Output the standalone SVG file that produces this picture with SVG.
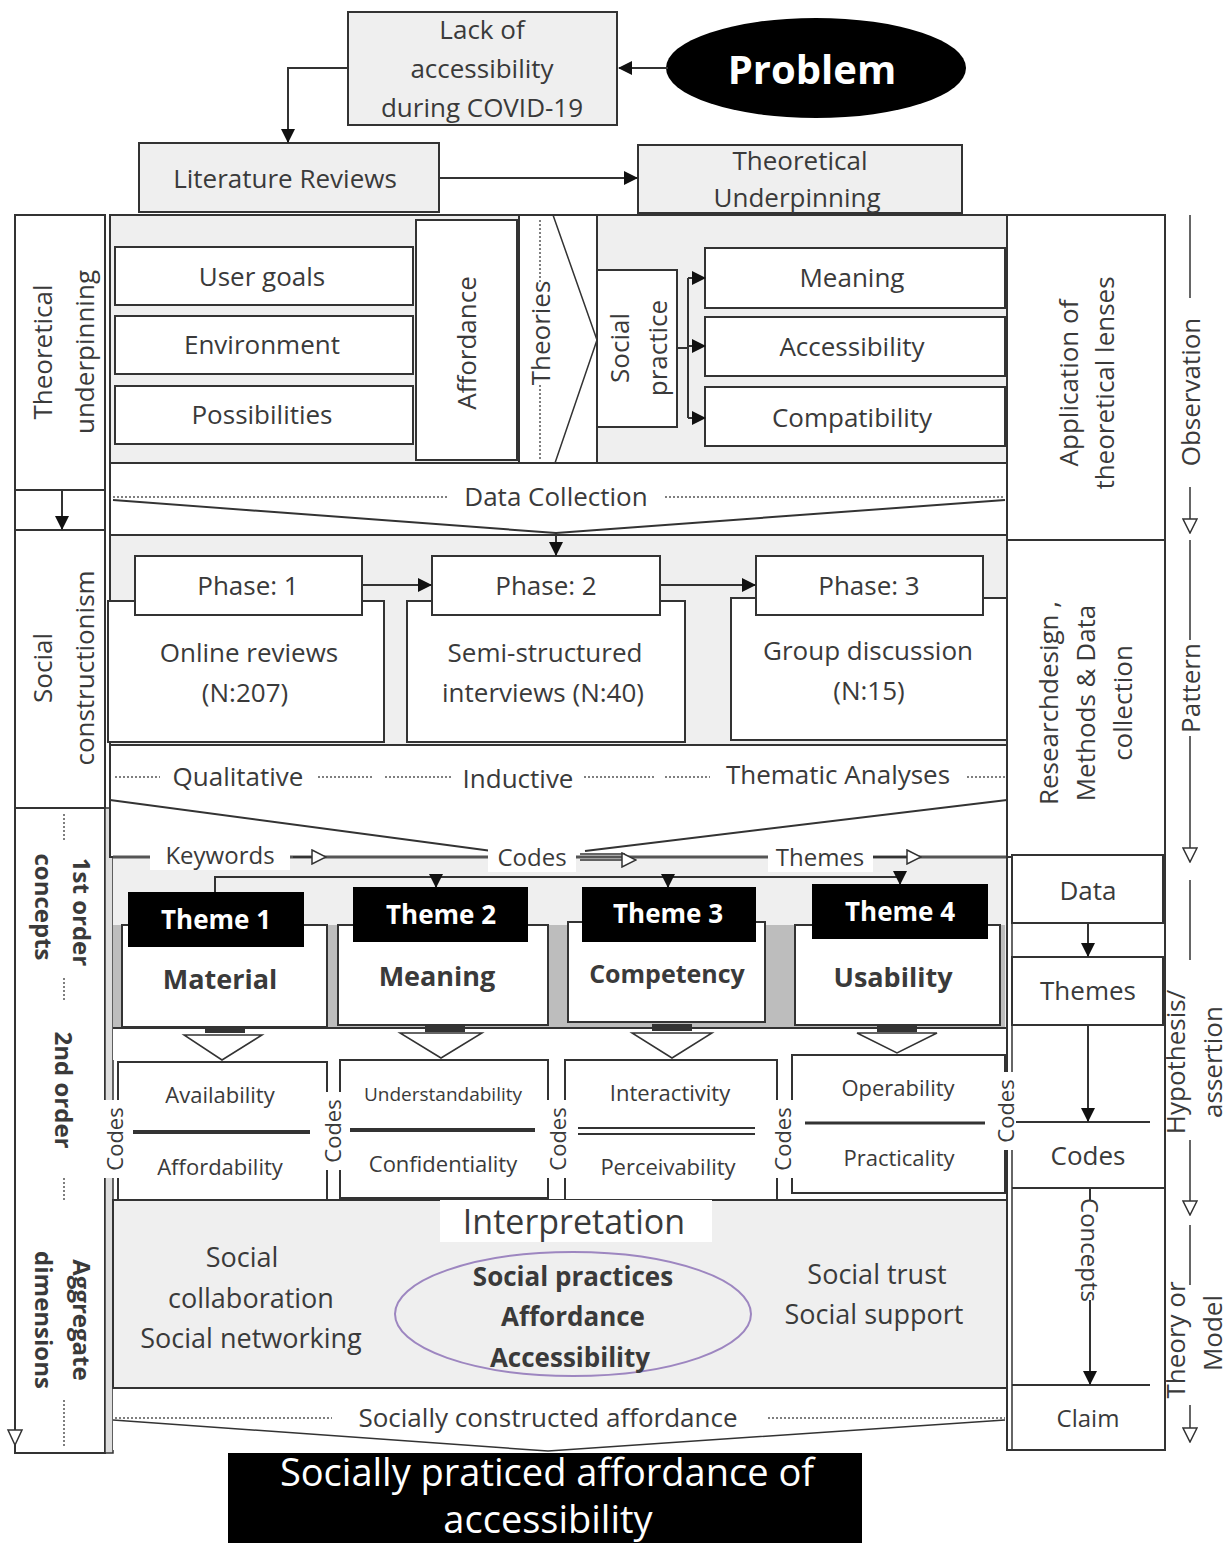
<svg xmlns="http://www.w3.org/2000/svg" width="1229" height="1543" viewBox="0 0 1229 1543">
<defs>
<style>
.box{fill:#fff;stroke:#333;stroke-width:2}
.gbox{fill:#efefef;stroke:#333;stroke-width:2}
.t{font-family:"Open Sans","Liberation Sans",sans-serif;fill:#3a3a3a;text-anchor:middle;dominant-baseline:central;font-size:26px}
.b{font-weight:bold}
.w{fill:#fff}
.ln{stroke:#333;stroke-width:2;fill:none}
.dot{stroke:#555;stroke-width:1.5;stroke-dasharray:2 2;fill:none}
.blk{fill:#000}
</style>
<marker id="arr" markerWidth="14" markerHeight="14" refX="13" refY="7" orient="auto" markerUnits="userSpaceOnUse"><path d="M0,0 L14,7 L0,14 z" fill="#111"/></marker>
<marker id="oarr" markerWidth="16" markerHeight="16" refX="15" refY="8" orient="auto" markerUnits="userSpaceOnUse"><path d="M1,1 L15,8 L1,15 z" fill="#fff" stroke="#333" stroke-width="1.5"/></marker>
</defs>
<rect width="1229" height="1543" fill="#fff"/>

<!-- top -->
<g id="lack"><rect x="348" y="12" width="269" height="113" class="gbox"/>
<text class="t" x="482" y="29">Lack of</text><text class="t" x="482" y="68">accessibility</text><text class="t" x="482" y="107">during COVID-19</text></g>
<g id="problem"><ellipse cx="816" cy="68" rx="150" ry="50" class="blk"/><text class="t b w" x="812" y="68" style="font-size:40px">Problem</text></g>
<g id="lit"><rect x="139" y="143" width="300" height="69" class="gbox"/><text class="t" x="285" y="178">Literature Reviews</text></g>
<g id="theo"><rect x="638" y="145" width="324" height="68" class="gbox"/><text class="t" x="800" y="160">Theoretical</text><text class="t" x="797" y="197">Underpinning</text></g>

<!-- left column -->
<g id="leftcol">
<rect x="15" y="215" width="90" height="1238" class="box"/>
<line x1="15" y1="490" x2="105" y2="490" class="ln"/>
<line x1="15" y1="530" x2="105" y2="530" class="ln"/>
<line x1="15" y1="808" x2="105" y2="808" class="ln"/>
<rect x="105" y="808" width="8" height="645" fill="#ddd" stroke="#333" stroke-width="1.5"/>
<text class="t" transform="rotate(-90 42 352)" x="42" y="352">Theoretical</text>
<text class="t" transform="rotate(-90 84 352)" x="84" y="352">underpinning</text>
<text class="t" transform="rotate(-90 42 668)" x="42" y="668">Social</text>
<text class="t" transform="rotate(-90 84 668)" x="84" y="668">constructionism</text>
<text class="t b" transform="rotate(90 82 912)" x="82" y="912" style="font-size:24px">1st order</text>
<text class="t b" transform="rotate(90 44 907)" x="44" y="907" style="font-size:24px">concepts</text>
<text class="t b" transform="rotate(90 64 1090)" x="64" y="1090" style="font-size:24px">2nd order</text>
<text class="t b" transform="rotate(90 82 1320)" x="82" y="1320" style="font-size:24px">Aggregate</text>
<text class="t b" transform="rotate(90 44 1320)" x="44" y="1320" style="font-size:24px">dimensions</text>
<line x1="64" y1="814" x2="64" y2="842" class="dot"/>
<line x1="64" y1="978" x2="64" y2="1002" class="dot"/>
<line x1="64" y1="1178" x2="64" y2="1202" class="dot"/>
<line x1="64" y1="1400" x2="64" y2="1448" class="dot"/>
<path d="M8,1430 L22,1430 L15,1445 z" fill="#fff" stroke="#333" stroke-width="1.5"/>
</g>

<!-- top panel -->
<g id="toppanel">
<rect x="110" y="215" width="897" height="248" class="gbox"/>
<rect x="519" y="216" width="78" height="246" fill="#fff"/>
<line x1="519" y1="215" x2="519" y2="463" class="ln"/>
<polyline points="553,215 597,340 555,463" class="ln" style="stroke-width:1.5"/>
<line x1="597" y1="215" x2="597" y2="463" class="ln"/>
<line x1="540" y1="220" x2="540" y2="282" class="dot"/>
<line x1="540" y1="385" x2="540" y2="460" class="dot"/>
<text class="t" transform="rotate(-90 540 333)" x="540" y="333">Theories</text>
</g>
<g id="usergoals"><rect x="115" y="247" width="298" height="58" class="box"/><text class="t" x="262" y="276">User goals</text></g>
<g id="environment"><rect x="115" y="316" width="298" height="58" class="box"/><text class="t" x="262" y="344">Environment</text></g>
<g id="possibilities"><rect x="115" y="386" width="298" height="58" class="box"/><text class="t" x="262" y="414">Possibilities</text></g>
<g id="affordance"><rect x="416" y="220" width="101" height="240" class="box"/><text class="t" transform="rotate(-90 466 343)" x="466" y="343">Affordance</text></g>
<g id="socialpractice"><rect x="597" y="270" width="80" height="157" class="box"/>
<text class="t" transform="rotate(-90 619 348)" x="619" y="348">Social</text>
<text class="t" transform="rotate(-90 657 348)" x="657" y="348">practice</text></g>
<g id="meaning"><rect x="705" y="248" width="300" height="60" class="box"/><text class="t" x="852" y="277">Meaning</text></g>
<g id="accessibility"><rect x="705" y="317" width="300" height="59" class="box"/><text class="t" x="852" y="346">Accessibility</text></g>
<g id="compatibility"><rect x="705" y="387" width="300" height="59" class="box"/><text class="t" x="852" y="417">Compatibility</text></g>

<!-- data collection -->
<g id="datacollection">
<rect x="110" y="463" width="897" height="72" class="box"/>
<line x1="113" y1="497" x2="448" y2="497" class="dot"/>
<line x1="665" y1="497" x2="1005" y2="497" class="dot"/>
<text class="t" x="556" y="496">Data Collection</text>
</g>

<!-- phases -->
<g id="phasepanel"><rect x="110" y="535" width="897" height="210" class="gbox"/></g>
<g id="phase1"><rect x="108" y="601" width="276" height="141" class="box"/><rect x="135" y="556" width="227" height="59" class="box"/>
<text class="t" x="248" y="585">Phase: 1</text><text class="t" x="249" y="652">Online reviews</text><text class="t" x="245" y="692">(N:207)</text></g>
<g id="phase2"><rect x="407" y="601" width="278" height="141" class="box"/><rect x="432" y="556" width="228" height="59" class="box"/>
<text class="t" x="546" y="585">Phase: 2</text><text class="t" x="545" y="652">Semi-structured</text><text class="t" x="543" y="692">interviews (N:40)</text></g>
<g id="phase3"><rect x="731" y="598" width="276" height="142" class="box"/><rect x="756" y="556" width="227" height="59" class="box"/>
<text class="t" x="869" y="585">Phase: 3</text><text class="t" x="868" y="650">Group discussion</text><text class="t" x="869" y="690">(N:15)</text></g>

<!-- qualitative -->
<g id="qualitative">
<rect x="110" y="745" width="897" height="112" class="box"/>
<line x1="115" y1="777" x2="160" y2="777" class="dot"/>
<line x1="318" y1="777" x2="372" y2="777" class="dot"/>
<line x1="385" y1="777" x2="452" y2="777" class="dot"/>
<line x1="584" y1="777" x2="655" y2="777" class="dot"/>
<line x1="665" y1="777" x2="710" y2="777" class="dot"/>
<line x1="967" y1="777" x2="1005" y2="777" class="dot"/>
<text class="t" x="238" y="776">Qualitative</text>
<text class="t" x="518" y="778">Inductive</text>
<text class="t" x="838" y="774">Thematic Analyses</text>
</g>

<!-- themes panel -->
<g id="themepanel">
<rect x="113" y="857" width="894" height="171" fill="#efefef"/>
<rect x="113" y="925" width="892" height="103" fill="#bdbdbd"/>
<line x1="113" y1="857" x2="1007" y2="857" stroke="#555" stroke-width="3"/>
</g>
<g id="material"><rect x="122" y="925" width="205" height="102" class="box"/><text class="t b" x="220" y="978" style="font-size:27px">Material</text></g>
<g id="meaning2"><rect x="338" y="925" width="210" height="100" class="box"/><text class="t b" x="437" y="975" style="font-size:27px">Meaning</text></g>
<g id="competency"><rect x="568" y="922" width="197" height="100" class="box"/><text class="t b" x="667" y="973" style="font-size:25px">Competency</text></g>
<g id="usability"><rect x="795" y="925" width="205" height="100" class="box"/><text class="t b" x="893" y="976" style="font-size:27px">Usability</text></g>
<g id="theme1"><rect x="128" y="892" width="176" height="55" class="blk"/><text class="t b w" x="216" y="919" style="font-size:26px">Theme 1</text></g>
<g id="theme2"><rect x="353" y="887" width="175" height="55" class="blk"/><text class="t b w" x="441" y="914" style="font-size:26px">Theme 2</text></g>
<g id="theme3"><rect x="582" y="887" width="174" height="55" class="blk"/><text class="t b w" x="668" y="913" style="font-size:26px">Theme 3</text></g>
<g id="theme4"><rect x="812" y="884" width="176" height="55" class="blk"/><text class="t b w" x="900" y="911" style="font-size:26px">Theme 4</text></g>

<!-- band with down arrows -->
<g id="downarrows">
<rect x="113" y="1028" width="894" height="32" fill="#fff"/>
<line x1="113" y1="1028" x2="1007" y2="1028" class="ln"/>
<rect x="205" y="1026" width="40" height="7" fill="#333"/>
<rect x="425" y="1025" width="40" height="7" fill="#333"/>
<rect x="652" y="1024" width="40" height="7" fill="#333"/>
<rect x="877" y="1025" width="40" height="7" fill="#333"/>
<polygon points="184,1035 262,1035 222,1060" fill="#fff" stroke="#333" stroke-width="1.5"/>
<polygon points="400,1033 482,1033 441,1058" fill="#fff" stroke="#333" stroke-width="1.5"/>
<polygon points="632,1033 712,1033 672,1058" fill="#fff" stroke="#333" stroke-width="1.5"/>
<polygon points="857,1033 937,1033 897,1053" fill="#fff" stroke="#333" stroke-width="1.5"/>
</g>

<!-- codes boxes -->
<g id="codes1"><rect x="118" y="1062" width="209" height="138" class="box"/>
<text class="t" x="220" y="1094" style="font-size:22px">Availability</text>
<line x1="133" y1="1132" x2="310" y2="1132" stroke="#333" stroke-width="4"/>
<text class="t" x="220" y="1166" style="font-size:22px">Affordability</text></g>
<g id="codes2"><rect x="340" y="1060" width="208" height="138" class="box"/>
<text class="t" x="443" y="1094" style="font-size:19px">Understandability</text>
<line x1="350" y1="1130" x2="535" y2="1130" stroke="#333" stroke-width="4"/>
<text class="t" x="443" y="1163" style="font-size:22px">Confidentiality</text></g>
<g id="codes3"><rect x="565" y="1060" width="212" height="143" class="box"/>
<text class="t" x="670" y="1092" style="font-size:22px">Interactivity</text>
<line x1="578" y1="1128" x2="755" y2="1128" class="ln"/>
<line x1="578" y1="1134" x2="755" y2="1134" class="ln"/>
<text class="t" x="668" y="1166" style="font-size:22px">Perceivability</text></g>
<g id="codes4"><rect x="792" y="1055" width="213" height="138" class="box"/>
<text class="t" x="898" y="1087" style="font-size:22px">Operability</text>
<line x1="805" y1="1123" x2="985" y2="1123" stroke="#333" stroke-width="3"/>
<text class="t" x="899" y="1157" style="font-size:22px">Practicality</text></g>

<!-- interpretation -->
<g id="interpretation">
<rect x="113" y="1200" width="894" height="188" class="gbox"/>
<rect x="440" y="1200" width="272" height="42" fill="#fff"/>
<text class="t" x="574" y="1221" style="font-size:34px">Interpretation</text>
<text class="t" x="242" y="1256" style="font-size:27px">Social</text>
<text class="t" x="251" y="1297" style="font-size:27px">collaboration</text>
<text class="t" x="251" y="1337" style="font-size:27px">Social networking</text>
<text class="t" x="877" y="1273" style="font-size:27px">Social trust</text>
<text class="t" x="874" y="1313" style="font-size:27px">Social support</text>
</g>
<g id="core">
<ellipse cx="573" cy="1314" rx="178" ry="62" fill="none" stroke="#9d86c0" stroke-width="2"/>
<text class="t b" x="573" y="1276" style="font-size:26px">Social practices</text>
<text class="t b" x="573" y="1316" style="font-size:26px">Affordance</text>
<text class="t b" x="570" y="1357" style="font-size:26px">Accessibility</text>
</g>

<!-- socially constructed -->
<g id="sociallyconstructed">
<rect x="113" y="1388" width="894" height="62" fill="#fff"/>
<line x1="113" y1="1388" x2="1007" y2="1388" class="ln"/>
<line x1="115" y1="1418" x2="332" y2="1418" class="dot"/>
<line x1="768" y1="1418" x2="1005" y2="1418" class="dot"/>
<text class="t" x="548" y="1417">Socially constructed affordance</text>
</g>
<g id="result"><rect x="228" y="1453" width="634" height="90" class="blk"/>
<text class="t w" x="547" y="1471" style="font-size:38px">Socially praticed affordance of</text>
<text class="t w" x="548" y="1518" style="font-size:38px">accessibility</text></g>

<!-- right column -->
<g id="application"><rect x="1007" y="215" width="158" height="325" class="box"/>
<text class="t" transform="rotate(-90 1068 383)" x="1068" y="383">Application of</text>
<text class="t" transform="rotate(-90 1104 383)" x="1104" y="383">theoretical lenses</text></g>
<g id="researchdesign"><rect x="1007" y="540" width="158" height="317" class="box"/>
<text class="t" transform="rotate(-90 1048 703)" x="1048" y="703">Researchdesign ,</text>
<text class="t" transform="rotate(-90 1085 703)" x="1085" y="703">Methods &amp; Data</text>
<text class="t" transform="rotate(-90 1122 703)" x="1122" y="703">collection</text></g>
<g id="rightlower">
<rect x="1007" y="857" width="158" height="593" fill="#fff" stroke="#333" stroke-width="2"/>
<line x1="1012" y1="857" x2="1012" y2="1450" class="ln" style="stroke-width:1.5"/>
</g>
<g id="data"><rect x="1012" y="855" width="151" height="68" class="box"/><text class="t" x="1088" y="890">Data</text></g>
<g id="themes"><rect x="1012" y="957" width="151" height="68" class="box"/><text class="t" x="1088" y="990">Themes</text></g>
<g id="codes"><line x1="1012" y1="1122" x2="1150" y2="1122" class="ln"/><line x1="1012" y1="1188" x2="1165" y2="1188" class="ln"/><text class="t" x="1088" y="1155">Codes</text></g>
<g id="claim"><line x1="1012" y1="1385" x2="1150" y2="1385" class="ln"/><text class="t" x="1088" y="1417" style="font-size:24px">Claim</text></g>

<g id="codelabels">
<rect x="103" y="1100" width="22" height="78" fill="#fff"/>
<text class="t" transform="rotate(-90 114 1139)" x="114" y="1139" style="font-size:22px">Codes</text>
<rect x="321" y="1092" width="22" height="78" fill="#fff"/>
<text class="t" transform="rotate(-90 332 1131)" x="332" y="1131" style="font-size:22px">Codes</text>
<rect x="546" y="1100" width="22" height="78" fill="#fff"/>
<text class="t" transform="rotate(-90 557 1139)" x="557" y="1139" style="font-size:22px">Codes</text>
<rect x="771" y="1100" width="22" height="78" fill="#fff"/>
<text class="t" transform="rotate(-90 782 1139)" x="782" y="1139" style="font-size:22px">Codes</text>
<rect x="994" y="1072" width="22" height="78" fill="#fff"/>
<text class="t" transform="rotate(-90 1005 1111)" x="1005" y="1111" style="font-size:22px">Codes</text>
</g>

<!-- far right labels -->
<g id="farright">
<line x1="1190" y1="215" x2="1190" y2="298" class="ln" style="stroke-width:1.5"/>
<text class="t" transform="rotate(-90 1190 392)" x="1190" y="392">Observation</text>
<line x1="1190" y1="487" x2="1190" y2="533" class="ln" style="stroke-width:1.5" marker-end="url(#oarr)"/>
<line x1="1190" y1="540" x2="1190" y2="640" class="ln" style="stroke-width:1.5"/>
<text class="t" transform="rotate(-90 1190 688)" x="1190" y="688">Pattern</text>
<line x1="1190" y1="736" x2="1190" y2="862" class="ln" style="stroke-width:1.5" marker-end="url(#oarr)"/>
<line x1="1190" y1="880" x2="1190" y2="960" class="ln" style="stroke-width:1.5"/>
<text class="t" transform="rotate(-90 1175 1062)" x="1175" y="1062">Hypothesis/</text>
<text class="t" transform="rotate(-90 1212 1062)" x="1212" y="1062">assertion</text>
<line x1="1190" y1="1140" x2="1190" y2="1215" class="ln" style="stroke-width:1.5" marker-end="url(#oarr)"/>
<line x1="1190" y1="1225" x2="1190" y2="1285" class="ln" style="stroke-width:1.5"/>
<text class="t" transform="rotate(-90 1175 1340)" x="1175" y="1340">Theory or</text>
<text class="t" transform="rotate(-90 1212 1333)" x="1212" y="1333">Model</text>
<line x1="1190" y1="1405" x2="1190" y2="1442" class="ln" style="stroke-width:1.5" marker-end="url(#oarr)"/>
</g>

<!-- connectors -->
<g id="connectors">
<line x1="668" y1="68" x2="619" y2="68" class="ln" marker-end="url(#arr)"/>
<polyline points="348,68 288,68 288,142" class="ln" marker-end="url(#arr)"/>
<line x1="439" y1="178" x2="637" y2="178" class="ln" marker-end="url(#arr)"/>
<line x1="62" y1="490" x2="62" y2="529" class="ln" marker-end="url(#arr)"/>
<line x1="677" y1="348" x2="688" y2="348" class="ln"/>
<line x1="688" y1="278" x2="688" y2="418" class="ln"/>
<line x1="688" y1="278" x2="705" y2="278" class="ln" marker-end="url(#arr)"/>
<line x1="688" y1="346" x2="705" y2="346" class="ln" marker-end="url(#arr)"/>
<line x1="688" y1="418" x2="705" y2="418" class="ln" marker-end="url(#arr)"/>
<polyline points="113,500 556,533 1005,500" class="ln"/>
<line x1="556" y1="533" x2="556" y2="555" class="ln" marker-end="url(#arr)"/>
<line x1="362" y1="585" x2="431" y2="585" class="ln" marker-end="url(#arr)"/>
<line x1="660" y1="585" x2="755" y2="585" class="ln" marker-end="url(#arr)"/>
<line x1="110" y1="800" x2="492" y2="851" class="ln"/>
<line x1="1007" y1="800" x2="585" y2="851" class="ln"/>
<polyline points="215,892 215,877 900,877" class="ln"/>
<line x1="436" y1="877" x2="436" y2="887" class="ln" marker-end="url(#arr)"/>
<line x1="668" y1="877" x2="668" y2="887" class="ln" marker-end="url(#arr)"/>
<line x1="900" y1="877" x2="900" y2="884" class="ln" marker-end="url(#arr)"/>
<line x1="1088" y1="923" x2="1088" y2="956" class="ln" marker-end="url(#arr)"/>
<line x1="1088" y1="1025" x2="1088" y2="1121" class="ln" marker-end="url(#arr)"/>
<line x1="1090" y1="1188" x2="1090" y2="1200" class="ln"/>
<line x1="1090" y1="1300" x2="1090" y2="1384" class="ln" marker-end="url(#arr)"/>
<polyline points="113,1420 548,1451 1005,1420" class="ln" style="stroke-width:1.5"/>
</g>
<g id="flowlabels">
<rect x="150" y="840" width="140" height="30" fill="#fff"/>
<text class="t" x="220" y="854" style="font-size:24px">Keywords</text>
<line x1="293" y1="857" x2="326" y2="857" class="ln" marker-end="url(#oarr)"/>
<rect x="488" y="842" width="88" height="30" fill="#fff"/>
<text class="t" x="532" y="856" style="font-size:24px">Codes</text>
<line x1="580" y1="854" x2="625" y2="854" class="ln" style="stroke-width:1.5"/>
<line x1="580" y1="860" x2="636" y2="860" class="ln" style="stroke-width:1.5" marker-end="url(#oarr)"/>
<rect x="768" y="842" width="105" height="30" fill="#fff"/>
<text class="t" x="820" y="856" style="font-size:24px">Themes</text>
<line x1="873" y1="857" x2="921" y2="857" class="ln" marker-end="url(#oarr)"/>
<rect x="1079" y="1200" width="22" height="100" fill="#fff"/>
<text class="t" transform="rotate(90 1090 1250)" x="1090" y="1250" style="font-size:24px">Concepts</text>
</g>
</svg>
